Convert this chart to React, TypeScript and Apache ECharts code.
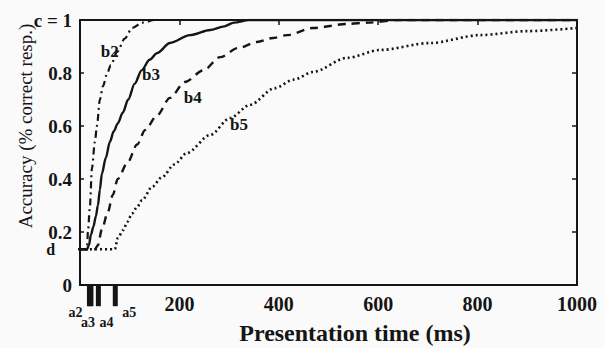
import React, { useEffect, useRef } from "react";
import * as echarts from "echarts";

// ---- data ----
const dLevel = 0.135;
const xTicks = [0, 200, 400, 600, 800, 1000];
const yTickLabels = ["0", "0.2", "0.4", "0.6", "0.8", "c = 1"];

const onsetNames = ["a2", "a3", "a4", "a5"];
const onsetTimes = [19, 22, 37, 71];

const curveNames = ["b2", "b3", "b4", "b5"];
const b2 = [
  [0, 0.135], [14, 0.135], [16, 0.2], [20, 0.3], [24, 0.44], [30, 0.54], [34, 0.6], [40, 0.7],
  [46, 0.75], [55, 0.8], [62, 0.83], [75, 0.88], [90, 0.93], [105, 0.97], [125, 0.99], [150, 1], [1000, 1],
];
const b3 = [
  [0, 0.135], [14, 0.135], [18, 0.15], [22, 0.19], [27, 0.22], [32, 0.26], [36, 0.3], [40, 0.36],
  [44, 0.42], [52, 0.48], [60, 0.54], [68, 0.58], [76, 0.61], [86, 0.65], [97, 0.7], [110, 0.76],
  [124, 0.81], [140, 0.85], [155, 0.875], [181, 0.913], [221, 0.943], [262, 0.962], [288, 0.975],
  [310, 0.99], [340, 1], [1000, 1],
];
const b4 = [
  [0, 0.135], [30, 0.135], [36, 0.15], [44, 0.21], [56, 0.275], [66, 0.34], [76, 0.4], [95, 0.46],
  [115, 0.53], [131, 0.585], [155, 0.64], [181, 0.706], [211, 0.766], [248, 0.81], [282, 0.86],
  [318, 0.894], [356, 0.917], [388, 0.932], [416, 0.943], [469, 0.97], [537, 0.985], [580, 0.99],
  [640, 1], [1000, 1],
];
const b5 = [
  [0, 0.135], [70, 0.135], [76, 0.177], [87, 0.207], [95, 0.238], [105, 0.27], [115, 0.295],
  [125, 0.32], [145, 0.37], [165, 0.407], [190, 0.455], [215, 0.498], [262, 0.566], [302, 0.63],
  [342, 0.68], [392, 0.743], [430, 0.775], [469, 0.804], [537, 0.857], [604, 0.887], [704, 0.913],
  [805, 0.943], [900, 0.958], [1000, 0.97],
];
const curves = [b2, b3, b4, b5];
// where each curve's name sits, in data units [ms, accuracy]
const curveLabelAt = [
  [60, 0.883],
  [143, 0.796],
  [227, 0.709],
  [320, 0.604],
];

const INK = "#151515";
const SERIF = "Liberation Serif";

export default function App() {
  const ref = useRef<HTMLDivElement>(null);

  useEffect(() => {
    const chart = echarts.init(ref.current!, null, { renderer: "svg" });

    const lineTypes: any[] = [[7, 4, 2, 4], "solid", [8, 6], [2, 3]];
    const lineWidths = [2.2, 2.4, 2.4, 2.6];

    const curveSeries = curves.map((c, i) => ({
      type: "line",
      name: curveNames[i],
      data: c,
      showSymbol: false,
      symbol: "none",
      smooth: 0.3,
      smoothMonotone: "x",
      silent: true,
      lineStyle: { color: INK, width: lineWidths[i], type: lineTypes[i] },
      markPoint: {
        symbol: "circle",
        symbolSize: 0,
        silent: true,
        label: {
          show: true,
          position: "inside",
          formatter: curveNames[i],
          color: INK,
          fontFamily: SERIF,
          fontWeight: "bold",
          fontSize: 17,
        },
        data: [{ coord: curveLabelAt[i] }],
      },
    }));

    const labelPlacement: any[] = [
      { position: "left", offset: [-2, 6] },
      { position: "bottom", offset: [-3, 4] },
      { position: "bottom", offset: [8, 4] },
      { position: "right", offset: [2, 6] },
    ];

    const onsetSeries = onsetTimes.map((t, i) => ({
      type: "line",
      name: onsetNames[i],
      clip: false,
      silent: true,
      symbol: "circle",
      symbolSize: 0,
      showSymbol: true,
      lineStyle: { color: INK, width: 5, cap: "butt" },
      itemStyle: { color: INK },
      data: [
        { value: [t, 0] },
        {
          value: [t, -0.08],
          label: {
            show: true,
            formatter: onsetNames[i],
            color: INK,
            fontFamily: SERIF,
            fontWeight: "bold",
            fontSize: 14,
            ...labelPlacement[i],
          },
        },
      ],
    }));

    const dSeries = {
      type: "line",
      name: "d",
      clip: false,
      silent: true,
      symbol: "circle",
      symbolSize: 0,
      showSymbol: true,
      lineStyle: { color: INK, width: 2.4 },
      itemStyle: { color: INK },
      data: [
        {
          value: [-44, dLevel],
          label: {
            show: true,
            position: "left",
            distance: 3,
            formatter: "d",
            color: INK,
            fontFamily: SERIF,
            fontWeight: "bold",
            fontSize: 16,
            lineHeight: 14,
          },
        },
        { value: [0, dLevel] },
      ],
    };

    const axisLine = { show: true, onZero: false, lineStyle: { color: INK, width: 2 } };
    const tickLabel = {
      color: INK,
      fontFamily: SERIF,
      fontWeight: "bold",
      fontSize: 19,
      lineHeight: 16,
    };

    chart.setOption({
      animation: false,
      backgroundColor: "#fafafa",
      grid: { left: 80, right: 28, top: 20, bottom: 63, containLabel: false },
      xAxis: [
        {
          type: "value",
          min: xTicks[0],
          max: xTicks[xTicks.length - 1],
          interval: 200,
          position: "bottom",
          axisLine,
          axisTick: { show: false },
          splitLine: { show: false },
          axisLabel: {
            ...tickLabel,
            fontSize: 20,
            margin: 11,
            formatter: (v: number) => (v === 0 ? "" : String(v)),
          },
        },
        {
          type: "value",
          min: xTicks[0],
          max: xTicks[xTicks.length - 1],
          interval: 200,
          position: "top",
          axisLine,
          axisTick: { show: true, inside: true, length: 5, lineStyle: { color: INK, width: 1.5 } },
          axisLabel: { show: false },
          splitLine: { show: false },
        },
      ],
      yAxis: [
        {
          type: "value",
          min: 0,
          max: 1,
          interval: 0.2,
          position: "left",
          axisLine,
          axisTick: { show: true, inside: true, length: 4, lineStyle: { color: INK, width: 1.5 } },
          splitLine: { show: false },
          axisLabel: {
            ...tickLabel,
            margin: 8,
            formatter: (v: number) => yTickLabels[Math.round(v * 5)] ?? "",
          },
        },
        {
          type: "value",
          min: 0,
          max: 1,
          interval: 0.2,
          position: "right",
          axisLine,
          axisTick: { show: true, inside: true, length: 5, lineStyle: { color: INK, width: 1.5 } },
          splitLine: { show: false },
          axisLabel: { show: false },
        },
      ],
      graphic: [
        {
          type: "text",
          x: 355,
          y: 333,
          style: {
            text: "Presentation time (ms)",
            fill: INK,
            font: `bold 24px ${SERIF}`,
            textAlign: "center",
            textVerticalAlign: "middle",
          },
        },
        {
          type: "text",
          x: 25,
          y: 126,
          rotation: Math.PI / 2,
          style: {
            text: "Accuracy (% correct resp.)",
            fill: INK,
            font: `19px ${SERIF}`,
            textAlign: "center",
            textVerticalAlign: "middle",
          },
        },
      ],
      series: [...curveSeries, ...onsetSeries, dSeries],
    });

    return () => chart.dispose();
  }, []);

  return (
    <div
      ref={ref}
      style={{ position: "fixed", left: 0, top: 0, width: 605, height: 348 }}
    />
  );
}
